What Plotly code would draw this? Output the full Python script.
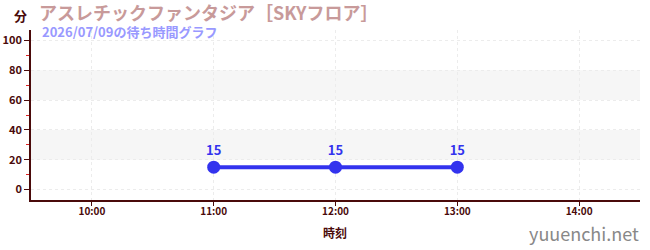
import plotly.graph_objects as go

times = ["2026-07-09 11:00", "2026-07-09 12:00", "2026-07-09 13:00"]
waits = [15, 15, 15]
tick_vals = ["2026-07-09 10:00", "2026-07-09 11:00", "2026-07-09 12:00", "2026-07-09 13:00", "2026-07-09 14:00"]
tick_text = ["10:00", "11:00", "12:00", "13:00", "14:00"]
y_ticks = [0, 20, 40, 60, 80, 100]
title = "アスレチックファンタジア［SKYフロア］"
subtitle = "2026/07/09の待ち時間グラフ"

FONT = "Noto Sans CJK JP"
AX = "#4a0a0a"
L, R, T, B = 31, 10, 30, 50
fig = go.Figure()
fig.add_trace(go.Scatter(
    x=times, y=waits, mode="lines+markers+text",
    text=[str(v) for v in waits], textposition="top center",
    textfont=dict(color="#3333ee", size=13, family=FONT, weight="bold"),
    line=dict(color="#3333ee", width=4),
    marker=dict(size=13, color="#3333ee"),
    cliponaxis=False, showlegend=False,
))
shapes = []
for lo, hi in [(20, 40), (60, 80)]:
    shapes.append(dict(type="rect", xref="paper", x0=0, x1=1, yref="y", y0=lo, y1=hi,
                       fillcolor="#f6f6f6", line=dict(width=0), layer="below"))
fig.update_layout(
    width=650, height=250, margin=dict(l=L, r=R, t=T, b=B),
    paper_bgcolor="white", plot_bgcolor="white",
    font=dict(family=FONT, color=AX),
    shapes=shapes,
    xaxis=dict(range=["2026-07-09 09:30", "2026-07-09 14:30"], tickvals=tick_vals, ticktext=tick_text,
               automargin=False,
               showline=True, linecolor=AX, linewidth=1.5, ticks="outside", tickcolor=AX, ticklen=4,
               ticklabelstandoff=-3,
               tickfont=dict(size=10, color=AX, family=FONT, weight="bold"),
               showgrid=True, gridcolor="#ececec", griddash="3px,3px", zeroline=False),
    yaxis=dict(range=[-7, 107], tickvals=y_ticks, showline=True, linecolor=AX, linewidth=1.5,
               automargin=False,
               ticks="outside", tickcolor=AX, ticklen=5,
               minor=dict(tickvals=[10, 30, 50, 70, 90], ticks="outside", ticklen=3, tickcolor="#dd2222", showgrid=False),
               tickfont=dict(size=11, color=AX, family=FONT, weight="bold"),
               showgrid=True, gridcolor="#ececec", griddash="3px,3px", zeroline=False),
    annotations=[
        dict(text="分", x=20, y=15, xanchor="center", yanchor="middle",
             showarrow=False, font=dict(size=13, color=AX, family=FONT, weight="bold")),
        dict(text=title, x=37, y=12, xanchor="left", yanchor="middle", showarrow=False,
             font=dict(size=18, color="#c89a9a", family=FONT, weight="bold")),
        dict(text=subtitle, x=40, y=32, xanchor="left", yanchor="middle", showarrow=False,
             font=dict(size=13, color="#9999ff", family=FONT, weight="bold")),
        dict(text="時刻", x=335, y=232, xanchor="center", yanchor="middle", showarrow=False,
             font=dict(size=12, color=AX, family=FONT, weight="bold")),
        dict(text="yuuenchi.net", x=641, y=233, xanchor="right", yanchor="middle", showarrow=False,
             font=dict(size=18, color="#888888", family=FONT)),
    ],
)
pw = 650 - L - R
ph = 250 - T - B
for a in fig.layout.annotations:
    px, py = a.x, a.y
    a.x = (px - L) / pw
    a.y = 1 - (py - T) / ph
    a.xref = "paper"; a.yref = "paper"
fig.write_html("out.html")
